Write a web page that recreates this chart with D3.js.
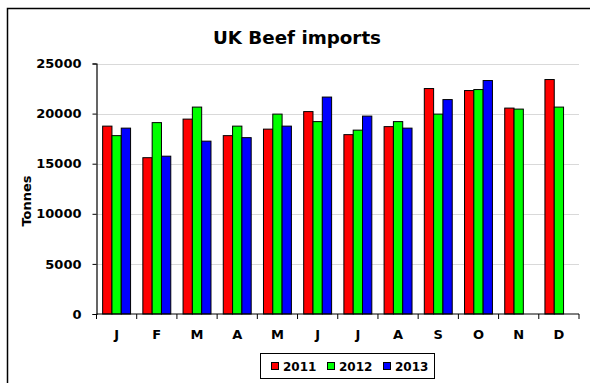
<!DOCTYPE html>
<html>
<head>
<meta charset="utf-8">
<script src="https://cdn.jsdelivr.net/npm/d3@7"></script>
<style>
  body { margin: 0; background: #fff; overflow: hidden; }
  svg { display: block; font-family: "DejaVu Sans", Verdana, sans-serif; }
</style>
</head>
<body>
<div id="chart"></div>
<script>
/* UK Beef imports — grouped monthly bars, one series per year */

var months = ['J', 'F', 'M', 'A', 'M', 'J', 'J', 'A', 'S', 'O', 'N', 'D'];
var years = ['2011', '2012', '2013'];
var colors = ['#ff0000', '#00ff00', '#0000ff'];

var v2011 = [18750, 15600, 19450, 17800, 18450, 20200, 17900, 18700, 22500, 22300, 20550, 23400];
var v2012 = [17800, 19100, 20650, 18750, 19950, 19200, 18350, 19200, 19950, 22400, 20450, 20650];
var v2013 = [18550, 15750, 17250, 17600, 18750, 21650, 19750, 18550, 21400, 23300, null, null];

var yTicks = [0, 5000, 10000, 15000, 20000, 25000];

var width = 590, height = 383;
var margin = {top: 63.5, right: 11, bottom: 69, left: 96.5};

var svg = d3.select('#chart').append('svg')
  .attr('width', width)
  .attr('height', height);

/* outer frame: only top and left edges are inside the picture */
svg.append('path')
  .attr('d', 'M7.5,' + height + 'V8.5H' + width)
  .attr('fill', 'none')
  .attr('stroke', '#000')
  .attr('stroke-width', 1.5);

var x = d3.scaleBand()
  .domain(d3.range(months.length))
  .range([margin.left, width - margin.right])
  .paddingInner(0)
  .paddingOuter(0);

var xSub = d3.scaleBand()
  .domain(years)
  .range([0, x.bandwidth()])
  .paddingOuter(0.66)
  .paddingInner(0);

var y = d3.scaleLinear()
  .domain([0, 25000])
  .range([height - margin.bottom, margin.top]);

/* gridlines */
svg.append('g')
  .selectAll('line')
  .data(yTicks.slice(1))
  .join('line')
  .attr('x1', margin.left).attr('x2', width - margin.right)
  .attr('y1', function(d) { return Math.round(y(d)) + 0.5; })
  .attr('y2', function(d) { return Math.round(y(d)) + 0.5; })
  .attr('stroke', '#d9d9d9')
  .attr('stroke-width', 1);

/* bars */
var series = [v2011, v2012, v2013];
var gBars = svg.append('g');
series.forEach(function(vals, si) {
  gBars.append('g')
    .selectAll('rect')
    .data(vals.map(function(v, i) { return {i: i, v: v}; }).filter(function(d) { return d.v != null; }))
    .join('rect')
    .attr('x', function(d) { return x(d.i) + xSub(years[si]); })
    .attr('y', function(d) { return y(d.v); })
    .attr('width', xSub.bandwidth())
    .attr('height', function(d) { return y(0) - y(d.v); })
    .attr('fill', colors[si])
    .attr('stroke', '#000')
    .attr('stroke-width', 1);
});

/* y axis */
var yAxis = svg.append('g')
  .attr('transform', 'translate(' + margin.left + ',0)')
  .call(d3.axisLeft(y).tickValues(yTicks).tickSize(4).tickPadding(11).tickFormat(d3.format('d')));
yAxis.attr('font-family', null).attr('font-size', null);
yAxis.select('.domain').attr('stroke', '#000').attr('stroke-width', 1.2);
yAxis.selectAll('.tick line').attr('stroke', '#000');
yAxis.selectAll('text')
  .style('font-size', '13px')
  .style('font-weight', 'bold')
  .attr('fill', '#000');

/* x axis: ticks sit on the category boundaries */
var xAxisG = svg.append('g')
  .attr('transform', 'translate(0,' + y(0) + ')');
xAxisG.append('line')
  .attr('x1', margin.left).attr('x2', width - margin.right)
  .attr('stroke', '#000').attr('stroke-width', 1.2);
xAxisG.selectAll('line.tk')
  .data(d3.range(months.length + 1))
  .join('line')
  .attr('class', 'tk')
  .attr('x1', function(d) { return d < months.length ? x(d) : x(d - 1) + x.bandwidth(); })
  .attr('x2', function(d) { return d < months.length ? x(d) : x(d - 1) + x.bandwidth(); })
  .attr('y1', 0).attr('y2', 5)
  .attr('stroke', '#000');
xAxisG.selectAll('text')
  .data(months)
  .join('text')
  .attr('x', function(d, i) { return x(i) + x.bandwidth() / 2; })
  .attr('y', 25)
  .attr('text-anchor', 'middle')
  .style('font-size', '13px')
  .style('font-weight', 'bold')
  .text(function(d) { return d; });

/* title and axis label */
svg.append('text')
  .attr('x', 297).attr('y', 44)
  .attr('text-anchor', 'middle')
  .style('font-size', '18.3px')
  .style('font-weight', 'bold')
  .text('UK Beef imports');

svg.append('text')
  .attr('transform', 'translate(30.5,201) rotate(-90)')
  .attr('text-anchor', 'middle')
  .style('font-size', '13px')
  .style('font-weight', 'bold')
  .text('Tonnes');

/* legend */
var legend = svg.append('g');
legend.append('rect')
  .attr('x', 260.5).attr('y', 353.5)
  .attr('width', 174).attr('height', 25)
  .attr('fill', '#fff')
  .attr('stroke', '#000')
  .attr('stroke-width', 1);
var legX = [271.5, 327.5, 383.5];
years.forEach(function(yr, i) {
  legend.append('rect')
    .attr('x', legX[i]).attr('y', 362.5)
    .attr('width', 7).attr('height', 7)
    .attr('fill', colors[i])
    .attr('stroke', '#000');
  legend.append('text')
    .attr('x', legX[i] + 11.5).attr('y', 370.5)
    .style('font-size', '12px')
    .style('font-weight', 'bold')
    .text(yr);
});
</script>
</body>
</html>
